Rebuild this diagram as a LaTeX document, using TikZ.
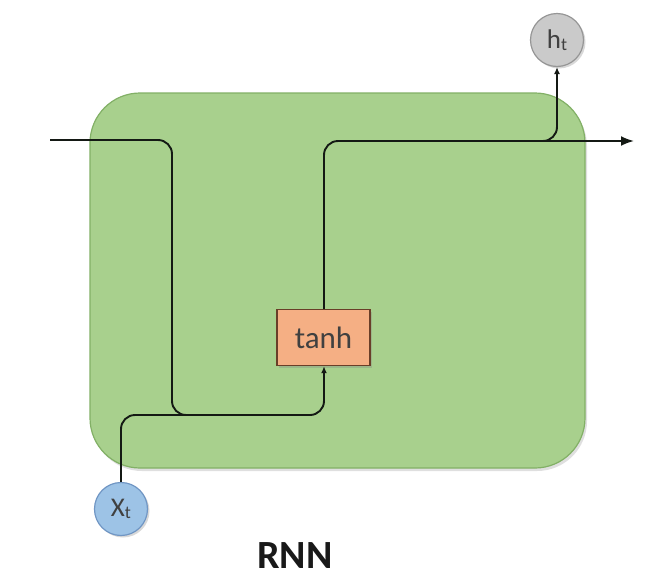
\documentclass[tikz,border=0pt]{standalone}
\usepackage{fontspec}
\setmainfont{Carlito}
\usetikzlibrary{arrows.meta,shadows}
\definecolor{cellgreen}{RGB}{168,208,141}
\definecolor{cellborder}{RGB}{130,176,102}
\definecolor{salmon}{RGB}{245,175,132}
\definecolor{salmonborder}{RGB}{105,62,40}
\definecolor{inblue}{RGB}{157,195,230}
\definecolor{inblueborder}{RGB}{112,150,196}
\definecolor{outgray}{RGB}{202,202,202}
\definecolor{outgrayborder}{RGB}{150,150,150}
\definecolor{wire}{RGB}{20,25,20}
\begin{document}
\begin{tikzpicture}[x=1pt,y=-1pt,
  cell/.style={draw=cellborder,line width=1.2pt,fill=cellgreen,rounded corners=50pt,
    drop shadow={shadow xshift=2pt,shadow yshift=-3pt,opacity=0.25}},
  gatebox/.style={draw=salmonborder,line width=1.4pt,fill=salmon,minimum width=93pt,minimum height=56pt,
    inner sep=0pt,font=\fontsize{31}{34}\selectfont,text=black!75,
    drop shadow={shadow xshift=2pt,shadow yshift=-2pt,opacity=0.3}},
  vecnode/.style={circle,line width=1.2pt,minimum size=53pt,inner sep=0pt,
    font=\fontsize{27}{30}\selectfont,text=black!75,
    drop shadow={shadow xshift=2pt,shadow yshift=-2pt,opacity=0.3}},
  wireline/.style={draw=wire,line width=1.9pt,rounded corners=14pt},
  tip/.style={-{Latex[length=7pt,width=6pt]}},
  bigtip/.style={-{Latex[length=13pt,width=10pt]}},
  title/.style={font=\bfseries\fontsize{40}{44}\selectfont,text=black!90}
]
\useasboundingbox (0,0) rectangle (654,584);
\fill[white] (0,0) rectangle (654,584);

\node[cell,minimum width=495pt,minimum height=375pt,inner sep=0pt] (cell) at (337.5,280.5) {};

\node[gatebox] (tanh) at (323.5,337.5) {tanh};
\node[vecnode,draw=inblueborder,fill=inblue] (xt) at (121,509) {X\raisebox{-0.15ex}{\fontsize{18}{20}\selectfont t}};
\node[vecnode,draw=outgrayborder,fill=outgray] (ht) at (557,40) {h\raisebox{-0.15ex}{\fontsize{18}{20}\selectfont t}};

\coordinate (in) at (50,140);
\coordinate (out) at (634,141);
\coordinate (split) at (535,141);
\coordinate (merge) at (200,415);

\draw[wireline,tip] (in) -- (172,140) -- (172,415) -- (324,415) -- (tanh.south -| 324,0);
\draw[wireline] (xt.north) -- (121,415) -- (merge);
\draw[wireline,bigtip] (tanh.north -| 324,0) -- (324,141) -- (out);
\draw[wireline,tip] (split) -- (557,141) -- (ht.south);

\node[title] (label) at (295,556) {RNN};
\end{tikzpicture}
\end{document}
